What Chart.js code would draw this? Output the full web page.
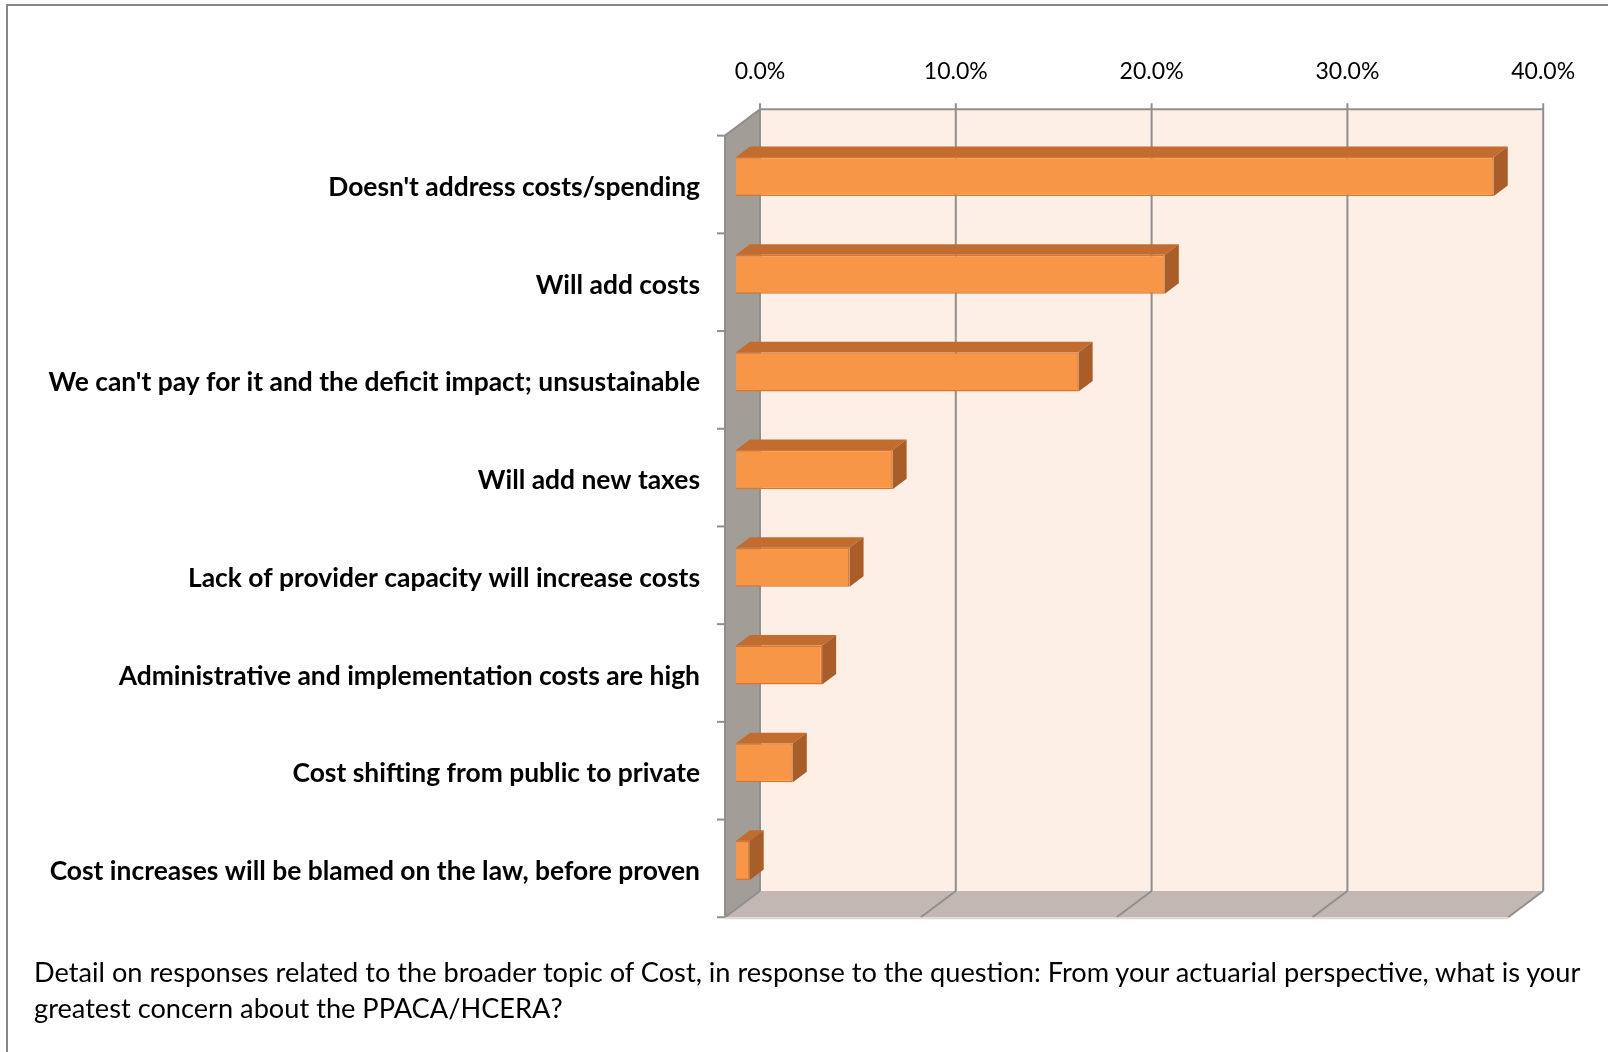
<!DOCTYPE html>
<html><head><meta charset="utf-8">
<script src="https://cdn.jsdelivr.net/npm/chart.js@4/dist/chart.umd.min.js"></script>
<style>
html,body{margin:0;padding:0;background:#fff;overflow:hidden;width:1608px;height:1052px;}
#frame{position:absolute;left:6px;top:4px;width:1700px;height:1200px;border-left:2px solid #878787;border-top:2px solid #878787;}
#wrap{position:absolute;left:0;top:0;width:1608px;height:1052px;}
#caption{position:absolute;left:34px;top:954px;font-family:Lato;font-size:25px;line-height:36px;color:#000;white-space:nowrap;}
</style></head><body>
<div id="frame"></div>
<div id="wrap"><canvas id="c" width="1608" height="1052"></canvas></div>
<div id="caption"><span id="cap1">Detail on responses related to the broader topic of Cost, in response to the question: From your actuarial perspective, what is your</span><br>greatest concern about the PPACA/HCERA?</div>
<script>
const categories = [
  "Doesn't address costs/spending",
  "Will add costs",
  "We can't pay for it and the deficit impact; unsustainable",
  "Will add new taxes",
  "Lack of provider capacity will increase costs",
  "Administrative and implementation costs are high",
  "Cost shifting from public to private",
  "Cost increases will be blamed on the law, before proven"
];
const values = [38.7, 21.9, 17.5, 8.0, 5.8, 4.4, 2.9, 0.7];
const axisMin = 0, axisMax = 40, axisStep = 10;

// geometry of the pseudo-3D projection (pixel offsets relative to the bar plane)
const G = {FX: -11, FY: 8, BX: 24, BY: -18.3, DX: 14, DY: -10.5};

function fit(text, font, target) {
  const c = document.createElement('canvas').getContext('2d');
  c.font = font.replace('SIZE', '100px');
  return 100 * target / c.measureText(text).width;
}
const labelSize = fit(categories[2], 'bold SIZE Lato', 652);
const tickSize = fit('10.0%', 'SIZE Lato', 64);
const capSize = fit(document.getElementById('cap1').textContent, 'SIZE Lato', 1551);
document.getElementById('caption').style.fontSize = capSize + 'px';

function poly(ctx, pts, fill) {
  ctx.beginPath();
  ctx.moveTo(pts[0][0], pts[0][1]);
  for (let i = 1; i < pts.length; i++) ctx.lineTo(pts[i][0], pts[i][1]);
  ctx.closePath();
  ctx.fillStyle = fill;
  ctx.fill();
}
function line(ctx, x1, y1, x2, y2) {
  ctx.beginPath(); ctx.moveTo(x1, y1); ctx.lineTo(x2, y2); ctx.stroke();
}

const threeD = {
  id: 'threeD',
  beforeDatasetsDraw(chart) {
    const {ctx, chartArea: a, scales: {x}} = chart;
    const L = a.left, R = a.right, T = a.top, B = a.bottom;
    const {FX, FY, BX, BY} = G;
    ctx.save();
    ctx.fillStyle = '#fdeee6';
    ctx.fillRect(L + BX, T + BY, R - L, B - T);
    poly(ctx, [[L+FX, T+FY], [L+BX, T+BY], [L+BX, B+BY], [L+FX, B+FY]], '#a39d98');
    poly(ctx, [[L+FX, B+FY], [L+BX, B+BY], [R+BX, B+BY], [R+FX, B+FY]], '#c2b7b2');
    ctx.strokeStyle = '#8f8f8f';
    ctx.lineWidth = 2;
    x.ticks.forEach(t => {
      const px = x.getPixelForValue(t.value);
      line(ctx, px + BX, T + BY - 6, px + BX, B + BY);
      line(ctx, px + BX, B + BY, px + FX, B + FY);
    });
    line(ctx, L + BX, T + BY, R + BX, T + BY);
    line(ctx, L + FX, T + FY, L + BX, T + BY);
    line(ctx, L + FX, T + FY, L + FX, B + FY);
    ctx.strokeStyle = '#dcd6d3';
    line(ctx, L + FX, B + FY + 1, R + FX, B + FY + 1);
    ctx.strokeStyle = '#8f8f8f';
    const n = categories.length, band = (B - T) / n;
    for (let i = 0; i <= n; i++) {
      const yy = T + FY + i * band;
      line(ctx, L + FX - 8, yy, L + FX, yy);
    }
    ctx.restore();
  },
  afterDatasetsDraw(chart) {
    const {ctx} = chart;
    const {DX, DY} = G;
    ctx.save();
    chart.getDatasetMeta(0).data.forEach(el => {
      const p = el.getProps(['x', 'y', 'base', 'height'], true);
      const top = p.y - p.height / 2, bot = p.y + p.height / 2;
      poly(ctx, [[p.base, top], [p.base + DX, top + DY], [p.x + DX, top + DY], [p.x, top]], '#c26c30');
      poly(ctx, [[p.x, top], [p.x + DX, top + DY], [p.x + DX, bot + DY], [p.x, bot]], '#a95e29');
    });
    ctx.restore();
  }
};

new Chart(document.getElementById('c'), {
  type: 'bar',
  data: {
    labels: categories,
    datasets: [{
      data: values,
      backgroundColor: '#f79646',
      borderColor: '#d9772f',
      borderWidth: 1.5,
      barPercentage: 0.4,
      categoryPercentage: 1
    }]
  },
  options: {
    indexAxis: 'y',
    responsive: false,
    animation: false,
    layout: {padding: {left: 0, top: 0, right: 88.8, bottom: 142.75}},
    plugins: {legend: {display: false}, tooltip: {enabled: false}},
    scales: {
      x: {
        position: 'top',
        min: axisMin, max: axisMax,
        afterFit(s) { s.height = 127.65; },
        grid: {display: false, drawTicks: false},
        border: {display: false},
        ticks: {
          stepSize: axisStep,
          maxRotation: 0,
          padding: 42,
          labelOffset: G.BX,
          color: '#000',
          font: {family: 'Lato', size: tickSize},
          callback: v => v.toFixed(1) + '%'
        }
      },
      y: {
        afterFit(s) { s.width = 736; },
        grid: {display: false, drawTicks: false},
        border: {display: false},
        ticks: {
          padding: 36,
          labelOffset: G.FY + 3,
          color: '#000',
          font: {family: 'Lato', size: labelSize, weight: 'bold'}
        }
      }
    }
  },
  plugins: [threeD]
});
</script>
</body></html>
